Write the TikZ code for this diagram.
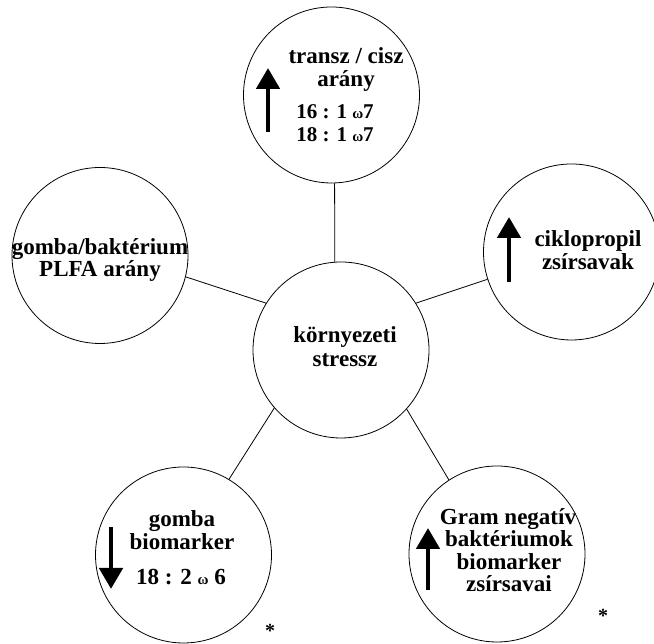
\documentclass[tikz,border=0pt]{standalone}
\usepackage{fontspec}
\setmainfont{Liberation Serif}
\usetikzlibrary{arrows.meta}
\tikzset{
  bubble/.style={circle,draw,line width=0.8pt,minimum size=176pt,inner sep=0pt},
  conn/.style={line width=0.8pt},
  bigarrow/.style={line width=4.8pt,-{Triangle[width=23pt,length=21pt]}},
  lbl/.style={anchor=base,inner sep=0pt,font=\fontsize{23}{25}\selectfont\bfseries},
  numlbl/.style={anchor=base,inner sep=0pt,font=\fontsize{21}{22}\selectfont\bfseries},
  star/.style={inner sep=0pt,font=\fontsize{20}{20}\selectfont\bfseries}
}
\newcommand{\om}{{\fontsize{15}{15}\selectfont ω}}
\begin{document}
\begin{tikzpicture}[x=1pt,y=1pt]
\useasboundingbox (0,0) rectangle (654,644);
% circles
\node[bubble] (c)  at (341,294) {};
\node[bubble] (t)  at (331.5,549) {};
\node[bubble] (l)  at (100,388.5) {};
\node[bubble] (r)  at (571.5,392) {};
\node[bubble] (bl) at (183.5,89) {};
\node[bubble] (br) at (497,90) {};
% connectors
\draw[conn] (c.94) -- (t.-88);
\draw[conn] (c.148) -- (l.-14);
\draw[conn] (c.32) -- (r.198);
\draw[conn] (c.221) -- (bl.59);
\draw[conn] (c.-42) -- (br.123);
% arrows
\coordinate (ta0) at (268,512); \coordinate (ta1) at (268,576);
\draw[bigarrow] (ta0) -- (ta1);
\coordinate (ra0) at (509,362); \coordinate (ra1) at (509,427);
\draw[bigarrow] (ra0) -- (ra1);
\coordinate (ba0) at (111,117); \coordinate (ba1) at (111,55);
\draw[bigarrow] (ba0) -- (ba1);
\coordinate (bb0) at (428,54); \coordinate (bb1) at (428,116);
\draw[bigarrow] (bb0) -- (bb1);
% texts
\node[lbl] (t1) at (346,580) {transz / cisz};
\node[lbl] (t2) at (346,557) {arány};
\node[numlbl] (t3) at (335,525) {16 : 1 \om7};
\node[numlbl] (t4) at (335,502) {18 : 1 \om7};
\node[lbl] (l1) at (100,389) {gomba/baktérium};
\node[lbl] (l2) at (100,367) {PLFA arány};
\node[lbl] (r1) at (588,397) {ciklopropil};
\node[lbl] (r2) at (588,374) {zsírsavak};
\node[lbl] (c1) at (345,301) {környezeti};
\node[lbl] (c2) at (345,277) {stressz};
\node[lbl] (b1) at (182,117) {gomba};
\node[lbl] (b2) at (182,94) {biomarker};
\node[lbl] (b3) at (181,59) {18 : 2 \om\ 6};
\node[lbl] (g1) at (508,119) {Gram negatív};
\node[lbl] (g2) at (509,97) {baktériumok};
\node[lbl] (g3) at (509,74) {biomarker};
\node[lbl] (g4) at (509,52) {zsírsavai};
\node[star] (s1) at (270,13) {*};
\node[star] (s2) at (603,28) {*};
\end{tikzpicture}
\end{document}
